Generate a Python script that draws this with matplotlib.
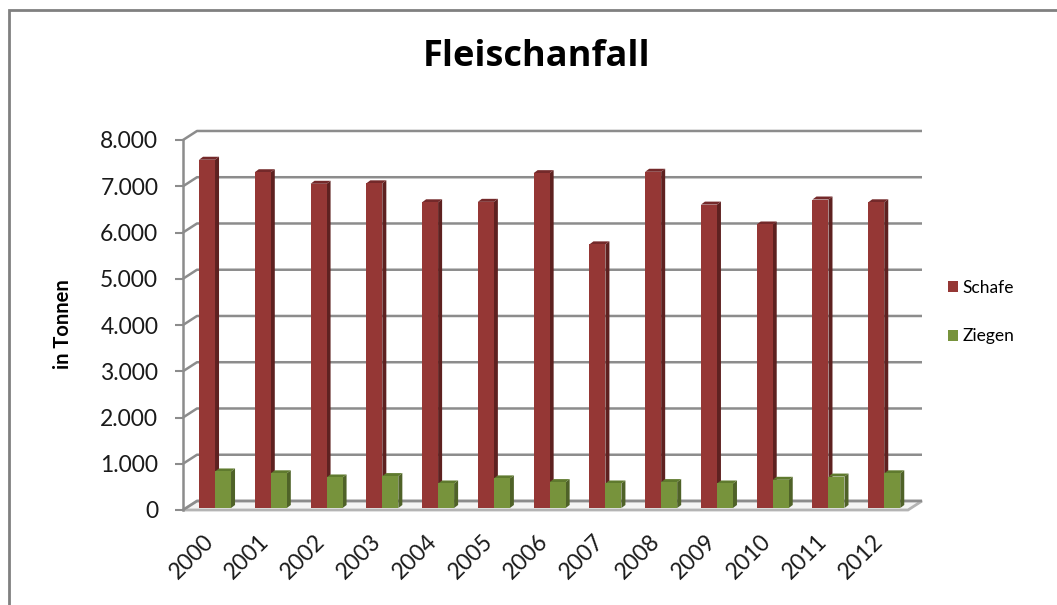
import matplotlib.pyplot as plt
import matplotlib.transforms as mtransforms
from matplotlib.patches import Patch, Rectangle

years = [str(y) for y in range(2000, 2013)]
schafe = [7530, 7260, 7010, 7020, 6610, 6620, 7240, 5700, 7270, 6560, 6130, 6670, 6610]
ziegen = [790, 750, 660, 690, 530, 640, 560, 530, 560, 530, 610, 680, 750]
yticks = [0, 1000, 2000, 3000, 4000, 5000, 6000, 7000, 8000]

plt.rcParams["font.family"] = ["Lato", "DejaVu Sans"]

RED = ("#953735", "#5e2120", "#74292a")      # front, side, top
GREEN = ("#77933c", "#4f6228", "#5f7a2e")
GRID = "#8c8c8c"

# pseudo 3d geometry in data units
BACK_DX, BACK_DY = 0.251, 195      # wall depth
BAR_DX, BAR_DY = 0.072, 65         # bar depth
BASE = 43                          # bars sit a bit behind the front plane
WIDTH = 0.287

fig = plt.figure(figsize=(10.57, 6.05), dpi=100)
ax = fig.add_axes([183 / 1057, 95 / 605, 725 / 1057, 370 / 605])
ax.set_xlim(-0.5, 12.5)
ax.set_ylim(0, 8000)
for s in ax.spines.values():
    s.set_visible(False)

# outer chart frame
fig.patches.append(Rectangle((9 / 1057, -0.1), 1.2, 1 - 10 / 605 + 0.1, transform=fig.transFigure,
                             fill=False, edgecolor="#808080", linewidth=2))

x0, x1 = -0.5, 12.5
# floor
ax.fill([x0, x1, x1 + BACK_DX, x0 + BACK_DX], [0, 0, BACK_DY, BACK_DY],
        facecolor="#f4f4f4", edgecolor="#b4b4b4", linewidth=2, clip_on=False, zorder=1)
# gridlines on side wall and back wall
for v in yticks:
    ax.plot([x0, x0 + BACK_DX, x1 + BACK_DX], [v, v + BACK_DY, v + BACK_DY],
            color=GRID, linewidth=1.8, clip_on=False, zorder=1, solid_capstyle="butt")
ax.plot([x0, x0], [0, 8000], color=GRID, linewidth=1.8, clip_on=False, zorder=1)


def draw_bars(centers, values, colors):
    front, side, top = colors
    ax.bar(centers, values, width=WIDTH, bottom=BASE, color=front, linewidth=0, zorder=3)
    for c, v in zip(centers, values):
        l, r = c - WIDTH / 2, c + WIDTH / 2
        t = BASE + v
        ax.fill([r, r + BAR_DX, r + BAR_DX, r], [BASE, BASE + BAR_DY, t + BAR_DY, t],
                color=side, linewidth=0, zorder=2, clip_on=False)
        ax.fill([l, r, r + BAR_DX, l + BAR_DX], [t, t, t + BAR_DY, t + BAR_DY],
                color=top, linewidth=0, zorder=2, clip_on=False)


idx = list(range(len(years)))
draw_bars([i - 0.213 + WIDTH / 2 for i in idx], schafe, RED)
draw_bars([i + 0.074 + WIDTH / 2 for i in idx], ziegen, GREEN)

ax.set_yticks(yticks)
ax.set_yticklabels([f"{v:,}".replace(",", ".") for v in yticks])
ax.tick_params(axis="y", length=5.8, width=1.5, color=GRID, pad=12, labelsize=16.5, labelcolor="#1a1a1a")
ax.set_xticks(idx)
ax.set_xticklabels(years, rotation=45, ha="right", va="top", rotation_mode="anchor")
ax.tick_params(axis="x", length=0, pad=15, labelsize=16.5, labelcolor="#1a1a1a")
shift = mtransforms.ScaledTranslation(-8 / 100, 0, fig.dpi_scale_trans)
for lab in ax.get_xticklabels():
    lab.set_transform(lab.get_transform() + shift)

ax.set_ylabel("in Tonnen", fontsize=14.5, fontweight="bold")
ax.yaxis.set_label_coords(-0.1517, 0.503)

fig.text(537 / 1057, 1 - 57 / 605, "Fleischanfall", ha="center", va="center",
         fontsize=26, fontweight="bold", family=["Open Sans", "DejaVu Sans"])

handles = [Patch(facecolor=RED[0], label="Schafe"), Patch(facecolor=GREEN[0], label="Ziegen")]
fig.legend(handles=handles, loc="center left", bbox_to_anchor=(948 / 1057, 1 - 312 / 605),
           frameon=False, fontsize=12.5, handlelength=0.55, handleheight=0.55,
           handletextpad=0.3, labelspacing=1.9, borderpad=0, borderaxespad=0)

fig.savefig("out.png", dpi=100)
